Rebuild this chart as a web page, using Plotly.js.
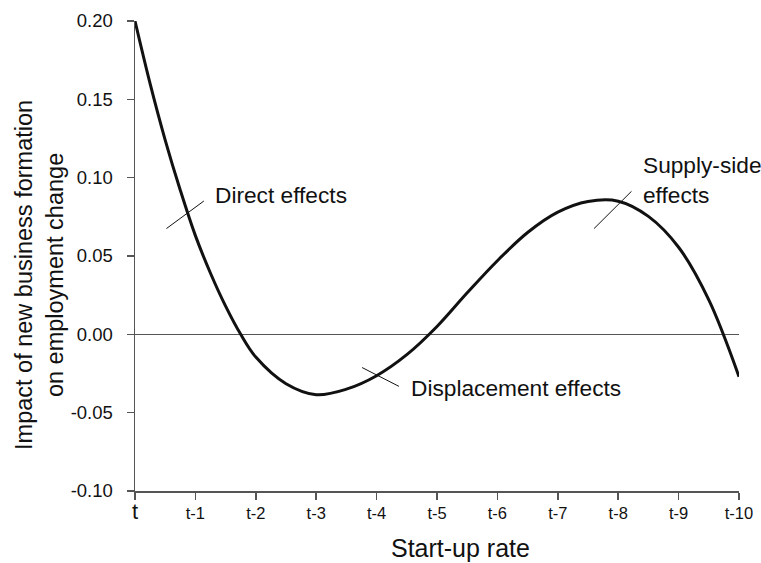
<!DOCTYPE html>
<html>
<head>
<meta charset="utf-8">
<script src="https://cdn.plot.ly/plotly-3.0.1.min.js"></script>
<style>html,body{margin:0;padding:0;background:#fff;}#chart{width:761px;height:563px;}</style>
</head>
<body>
<div id="chart"></div>
<script>
// Curve (x = lag index: 0 = t, 10 = t-10)
const lagX = [0, 0.25, 0.5, 0.75, 1.0, 1.25, 1.5, 1.75, 2.0, 2.5, 3.0, 3.5, 4.0, 4.5, 5.0, 5.5, 6.0, 6.5, 7.0, 7.5, 8.0, 8.5, 9.0, 9.5, 10];
const impactY = [0.200, 0.160, 0.124, 0.092, 0.063, 0.039, 0.018, 0.000, -0.0145, -0.0315, -0.0385, -0.035, -0.0264, -0.013, 0.005, 0.0265, 0.047, 0.065, 0.078, 0.0848, 0.085, 0.0753, 0.0556, 0.022, -0.027];

// Axis ticks
const xTickVals = [0, 1, 2, 3, 4, 5, 6, 7, 8, 9, 10];
const xTickText = ['<span style="font-size:22px">t</span>', 't-1', 't-2', 't-3', 't-4', 't-5', 't-6', 't-7', 't-8', 't-9', 't-10'];
const yTickVals = [-0.10, -0.05, 0.00, 0.05, 0.10, 0.15, 0.20];
const yTickText = ['-0.10', '-0.05', '0.00', '0.05', '0.10', '0.15', '0.20'];

// Labels and their leader lines (data coordinates)
const labelTexts = ['Direct effects', 'Displacement effects', 'Supply-side<br>effects'];
const labelX = [1.29, 4.54, 8.37];
const labelY = [0.0892, -0.0342, 0.0987];
const leaderX0 = [0.52, 3.76, 7.60];
const leaderY0 = [0.0675, -0.0212, 0.0675];
const leaderX1 = [1.14, 4.37, 8.22];
const leaderY1 = [0.0851, -0.0332, 0.0913];

const FONT = '"Liberation Sans", Arial, Helvetica, sans-serif';
const AXC = '#555555';

const trace = {
  x: lagX, y: impactY, type: 'scatter', mode: 'lines',
  line: {color: '#111111', width: 3, shape: 'spline', smoothing: 1},
  hoverinfo: 'skip', showlegend: false, cliponaxis: false
};

const shapes = leaderX0.map((x0, i) => ({
  type: 'line', xref: 'x', yref: 'y',
  x0: x0, y0: leaderY0[i], x1: leaderX1[i], y1: leaderY1[i],
  line: {color: '#111111', width: 1}
}));

const annotations = labelTexts.map((t, i) => ({
  x: labelX[i], y: labelY[i], xref: 'x', yref: 'y',
  text: t, showarrow: false, xanchor: 'left', yanchor: 'middle', align: 'left',
  font: {family: FONT, size: 22.7, color: '#111111'}
}));

annotations.push({
  x: 0.539, y: -0.121, xref: 'paper', yref: 'paper',
  text: 'Start-up rate', showarrow: false, xanchor: 'center', yanchor: 'middle',
  font: {family: FONT, size: 25, color: '#111111'}
});
annotations.push({
  x: -0.157, y: 0.46, xref: 'paper', yref: 'paper',
  text: 'Impact of new business formation<br>on employment change', showarrow: false,
  textangle: -90, xanchor: 'center', yanchor: 'middle', align: 'center',
  font: {family: FONT, size: 23.5, color: '#111111'}
});

const layout = {
  width: 761, height: 563,
  margin: {l: 135, r: 22, t: 21, b: 72, pad: 0},
  paper_bgcolor: '#ffffff', plot_bgcolor: '#ffffff',
  font: {family: FONT, color: '#111111'},
  xaxis: {
    range: [0, 10], tickvals: xTickVals, ticktext: xTickText,
    showgrid: false, zeroline: false, showline: true, linecolor: AXC, linewidth: 1.5,
    ticks: 'outside', ticklen: 7, tickwidth: 1.5, tickcolor: AXC,
    tickfont: {family: FONT, size: 16.5, color: '#111111'}, fixedrange: true
  },
  yaxis: {
    range: [-0.10, 0.20], tickvals: yTickVals, ticktext: yTickText,
    showgrid: false, zeroline: true, zerolinecolor: AXC, zerolinewidth: 1,
    showline: true, linecolor: AXC, linewidth: 1.5,
    ticks: 'outside', ticklen: 7, tickwidth: 1.5, tickcolor: AXC,
    ticklabelstandoff: 10,
    tickfont: {family: FONT, size: 18.5, color: '#111111'}, fixedrange: true
  },
  shapes: shapes,
  annotations: annotations,
  showlegend: false
};

Plotly.newPlot('chart', [trace], layout, {displayModeBar: false, staticPlot: true});
</script>
</body>
</html>
